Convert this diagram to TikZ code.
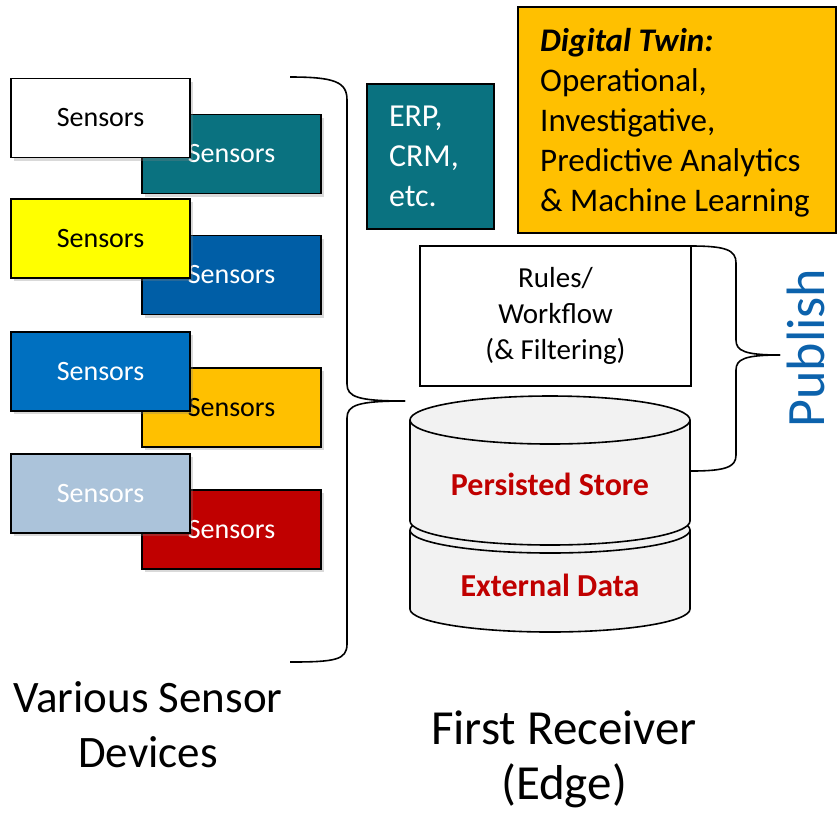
\documentclass[tikz,border=0pt]{standalone}
\usepackage{fontspec}
\setmainfont{Carlito}
\usetikzlibrary{shadows}
\definecolor{tealc}{RGB}{10,114,128}
\definecolor{blueback}{RGB}{0,94,166}
\definecolor{bluefront}{RGB}{0,112,192}
\definecolor{orangec}{RGB}{255,192,0}
\definecolor{redc}{RGB}{192,0,0}
\definecolor{lightbluec}{RGB}{171,195,218}
\definecolor{yellowc}{RGB}{255,255,0}
\definecolor{cylgray}{RGB}{242,242,242}
\definecolor{pubblue}{RGB}{12,98,172}
\newcommand{\myfs}[2]{\fontsize{#1}{#2}\selectfont}
\begin{document}
\begin{tikzpicture}[x=1pt,y=-1pt,
  sbox/.style={draw=black, line width=1.6pt, minimum width=179pt, minimum height=79pt,
    inner sep=0pt, font=\myfs{28}{34},
    drop shadow={shadow xshift=3pt, shadow yshift=-3pt, opacity=0.3}},
  plainbox/.style={draw=black, line width=1.6pt, inner sep=0pt},
  brace/.style={draw=black, line width=1.6pt},
  cyl/.style={draw=black, line width=1.6pt, fill=cylgray},
  storelabel/.style={anchor=base, font=\bfseries\myfs{32}{38}, text=redc},
  biglabel/.style={anchor=base, font=\myfs{45}{55}},
  biglabelb/.style={anchor=base, font=\myfs{49}{55}}
]
\useasboundingbox (0,0) rectangle (837,815);

% sensor boxes
\node[sbox, fill=tealc, text=white] (s1b) at (231.5,154) {Sensors};
\node[sbox, fill=white, text=black] (s1f) at (100.5,118) {Sensors};
\node[sbox, fill=blueback, text=white] (s2b) at (231.5,275) {Sensors};
\node[sbox, fill=yellowc, text=black] (s2f) at (100.5,238.5) {Sensors};
\node[sbox, fill=orangec, text=black] (s3b) at (231.5,407.5) {Sensors};
\node[sbox, fill=bluefront, text=white] (s3f) at (100.5,371.5) {Sensors};
\node[sbox, fill=redc, text=white] (s4b) at (231.5,529.5) {Sensors};
\node[sbox, fill=lightbluec, text=white] (s4f) at (100.5,493.5) {Sensors};

% left brace
\coordinate (lbtop) at (290,77);
\coordinate (lbtip) at (405,401);
\coordinate (lbbot) at (290,662);
\draw[brace] (lbtop) .. controls (335,77) and (347,82) .. (347,100) -- (347,384)
  .. controls (347,397) and (358,401) .. (lbtip);
\draw[brace] (lbtip) .. controls (358,401) and (347,405) .. (347,418) -- (347,644)
  .. controls (347,660) and (335,662) .. (lbbot);

% ERP box
\node[plainbox, fill=tealc, text=white, minimum width=127pt, minimum height=145pt,
  inner xsep=22pt, text width=83pt, align=left, font=\myfs{32}{40}] (erp) at (430.5,156.5)
  {ERP,\\CRM,\\etc.};

% Digital twin box
\node[plainbox, fill=orangec, minimum width=318pt, minimum height=226pt] (dt) at (677,120) {};
\node[inner sep=0pt, anchor=west, align=left, font=\myfs{33}{40}, text=black] (dttext) at (540,123)
  {{\bfseries\itshape Digital Twin:}\\Operational,\\Investigative,\\Predictive Analytics\\\& Machine Learning};

% Rules box
\node[plainbox, fill=white, text=black, minimum width=271pt, minimum height=140pt,
  align=center, font=\myfs{29}{36}] (rules) at (555.5,316)
  {Rules/\\Workflow\\(\& Filtering)};

% cylinder 2 (External Data)
\path[cyl] (410,530) -- (410,609) arc[start angle=180, end angle=0, x radius=140, y radius=23]
  -- (690,530) arc[start angle=0, end angle=-180, x radius=140, y radius=23] -- cycle;
\draw[line width=1.6pt] (410,530) arc[start angle=180, end angle=0, x radius=140, y radius=23];
% cylinder 1 (Persisted Store)
\path[cyl] (410,420) -- (410,521) arc[start angle=180, end angle=0, x radius=140, y radius=24]
  -- (690,420) arc[start angle=0, end angle=-180, x radius=140, y radius=24] -- cycle;
\draw[line width=1.6pt] (410,420) arc[start angle=180, end angle=0, x radius=140, y radius=24];

\node[storelabel] (ps) at (550,495) {Persisted Store};
\node[storelabel] (ed) at (550,596) {External Data};

% right brace
\coordinate (rbtop) at (691,246);
\coordinate (rbtip) at (780,355);
\coordinate (rbbot) at (691,471);
\draw[brace] (rbtop) .. controls (726,246) and (736,250) .. (736,263) -- (736,340)
  .. controls (736,351) and (745,355) .. (rbtip);
\draw[brace] (rbtip) .. controls (745,355) and (736,359) .. (736,370) -- (736,455)
  .. controls (736,467) and (726,471) .. (rbbot);

\node[rotate=90, anchor=base, inner sep=0pt, font=\myfs{54}{60}, text=pubblue] (pub) at (824,348) {Publish};

% bottom labels
\node[biglabel] (vs1) at (148,712) {Various Sensor};
\node[biglabel] (vs2) at (148,767) {Devices};
\node[biglabelb] (fr1) at (564,744) {First Receiver};
\node[biglabelb] (fr2) at (564,799) {(Edge)};
\end{tikzpicture}
\end{document}
